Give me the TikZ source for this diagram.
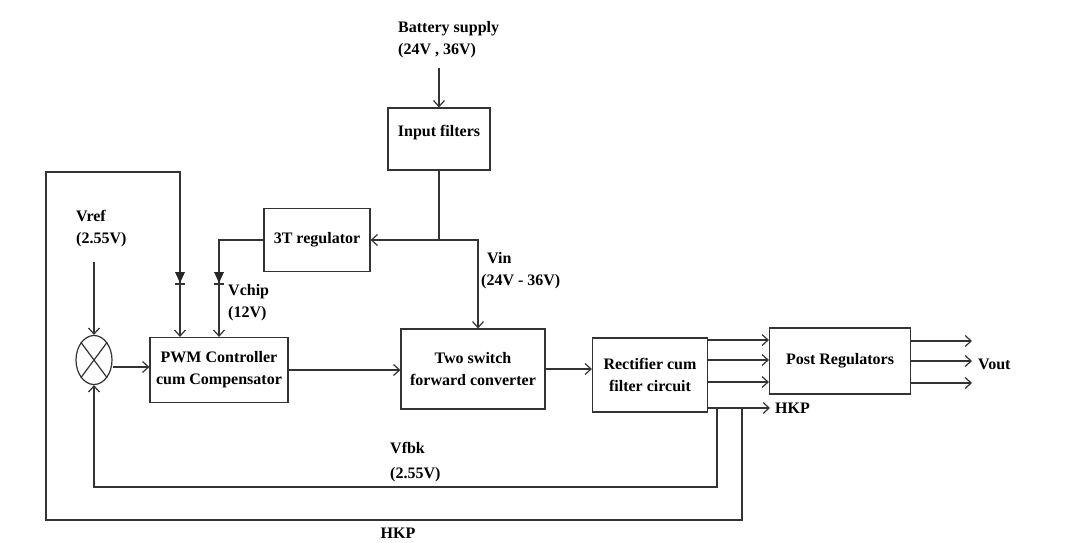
\documentclass[tikz,border=0pt]{standalone}
\usepackage{fontspec}
\setmainfont{Liberation Serif}
\usetikzlibrary{arrows.meta,positioning,calc,shapes.geometric}

\begin{document}
\begin{tikzpicture}[
  x=1pt, y=-1pt,
  font=\fontsize{16}{22}\selectfont\bfseries,
  box/.style={draw=black!80, line width=1.2pt, align=center, inner sep=2pt},
  lbl/.style={align=left, inner sep=0pt, anchor=west},
  arr/.style={-{Straight Barb[length=6pt,width=11pt]}, line width=1.2pt, draw=black!80},
  wire/.style={line width=1.2pt, draw=black!80}
]
\useasboundingbox (0,0) rectangle (1089,543);
% blocks
\node[box, minimum width=102pt, minimum height=62pt] (filt) at (439,139) {\raisebox{6pt}[\height][\depth]{Input filters}};
\node[box, minimum width=106pt, minimum height=63pt] (reg) at (317,240) {3T regulator};
\node[box, minimum width=138pt, minimum height=65pt] (pwm) at (219,370) {PWM Controller\\cum Compensator};
\node[box, minimum width=144pt, minimum height=80pt] (conv) at (473,369) {Two switch\\forward converter};
\node[box, minimum width=115pt, minimum height=74pt] (rect) at (650,375) {Rectifier cum\\filter circuit};
\node[box, minimum width=141pt, minimum height=66pt] (post) at (840,361) {Post Regulators};
\node[ellipse, draw=black!80, line width=1.2pt, minimum width=36pt, minimum height=49pt, inner sep=0pt] (sum) at (94,360) {};
\draw[wire] (sum.north west) -- (sum.south east) (sum.north east) -- (sum.south west);
% labels
\node[lbl] (bat) at (398,40) {Battery supply\\(24V , 36V)};
\node[lbl] (vin) at (481,271) {\hspace*{6pt}Vin\\(24V - 36V)};
\node[lbl] (vref) at (76,229) {Vref\\(2.55V)};
\node[lbl] (vchip) at (228,303) {Vchip\\(12V)};
\node[lbl, font=\fontsize{16}{25}\selectfont\bfseries] (vfbk) at (390,462) {Vfbk\\(2.55V)};
\node[lbl] (vout) at (978,364) {Vout};
\coordinate (hkpout) at (770,408);
\node[lbl] (hkpa) at ([xshift=5pt]hkpout) {HKP};
\node (hkpb) at (398,533) {HKP};
% points
\coordinate (batin) at (439,68);
\coordinate (j1) at (439,240);
\coordinate (j2) at (478,240);
\coordinate (dA) at (180,272);
\coordinate (dB) at (219,272);
\coordinate (tapV) at (717,408);
\coordinate (tapH) at (742,408);
\coordinate (cnrA) at (46,520);
\coordinate (cnrB) at (46,172);
\coordinate (fbk) at (94,487);
\coordinate (vrefin) at (94,262);
% supply path
\draw[arr] (batin) -- (filt.north);
\draw[wire] (filt.south) -- (j1);
\draw[arr] (j1) -- (j1 -| reg.east);
\draw[arr] (j1) -- (j2) -- (j2 |- conv.north);
\draw[wire] (reg.west) -| (dB);
\draw[arr] (dB) -- (dB |- pwm.north);
% forward path
\draw[arr] (vrefin) -- (sum.north);
\draw[arr] ([yshift=-7pt]sum.east) -- ([yshift=-7pt]sum.east -| pwm.west);
\draw[arr] (pwm.east) -- (pwm.east -| conv.west);
\draw[arr] (conv.east) -- (conv.east -| rect.west);
\foreach \y in {340,360,382}
  \draw[arr] (rect.east |- 0,\y) -- (post.west |- 0,\y);
\foreach \y in {341,361,383}
  \draw[arr] (post.east |- 0,\y) -- ([xshift=-6pt]vout.west |- 0,\y);
% feedback paths
\draw[arr] (rect.south east |- hkpout) -- (hkpout);
\draw[arr] (tapV) |- (fbk) -- (sum.south);
\draw[wire] (tapH) |- (cnrA) -- (cnrB) -| (dA);
\draw[arr] (dA) -- (dA |- pwm.north);
% diodes
\foreach \d in {dA,dB} {
  \fill[black!85] ([xshift=-5pt]\d) -- ([xshift=5pt]\d) -- ([yshift=-11pt]\d) -- cycle;
  \draw[wire] ([xshift=-5pt,yshift=-12pt]\d) -- ([xshift=5pt,yshift=-12pt]\d);
}
\end{tikzpicture}
\end{document}
